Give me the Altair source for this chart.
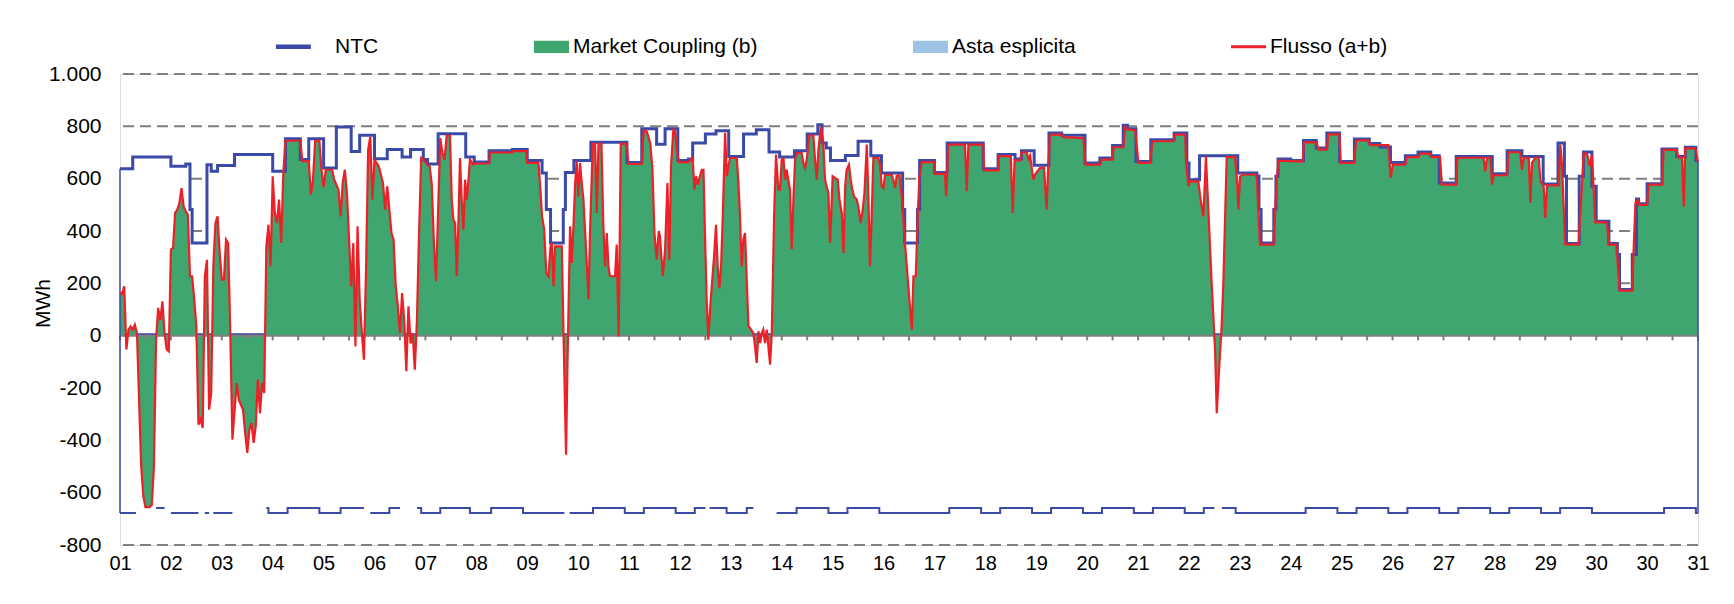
import altair as alt
import pandas as pd

# ---------------- data ----------------
DAY_LABELS = ["01", "02", "03", "04", "05", "06", "07", "08", "09", "10",
              "11", "12", "13", "14", "15", "16", "17", "18", "19", "20",
              "21", "22", "23", "24", "25", "26", "27", "28", "29", "30",
              "30", "31"]
Y_TICKS = [-800, -600, -400, -200, 0, 200, 400, 600, 800, 1000]
GRID_VALUES = [1000, 800, 600, 400, 200, -800]
LEGEND_LABELS = ["NTC", "Market Coupling (b)", "Asta esplicita", "Flusso (a+b)"]

# NTC import (hour, MWh), step changes
NTC_UP = [(0, 638), (6, 683), (24, 647), (31, 656), (33, 482), (34, 354), (41, 653), (43, 628),
          (46, 650), (54, 692), (72, 628), (78, 753), (85, 673), (89, 753), (96, 641), (102, 797),
          (109, 704), (113, 766), (120, 676), (126, 711), (133, 683), (137, 711), (143, 673),
          (145, 656), (150, 772), (163, 683), (167, 664), (174, 707), (185, 711), (192, 669),
          (199, 622), (201, 482), (203, 354), (209, 482), (210, 624), (214, 669), (222, 739),
          (239, 662), (246, 791), (253, 732), (257, 791), (263, 669), (268, 675), (270, 736),
          (276, 771), (281, 783), (287, 685), (294, 771), (300, 787), (306, 702), (311, 683),
          (318, 707), (324, 771), (329, 806), (331, 736), (333, 717), (335, 669), (342, 689),
          (348, 743), (354, 688), (359, 622), (369, 482), (370, 354), (376, 482), (377, 669),
          (384, 624), (390, 736), (407, 638), (414, 692), (422, 675), (425, 707), (431, 651),
          (438, 775), (444, 766), (455, 660), (462, 679), (468, 727), (473, 804), (475, 791),
          (479, 666), (486, 749), (497, 775), (503, 660), (504, 596), (509, 688), (527, 622),
          (536, 610), (537, 482), (538, 354), (544, 482), (545, 609), (546, 675), (552, 669),
          (558, 746), (564, 717), (569, 775), (575, 666), (582, 752), (589, 734), (594, 721),
          (599, 662), (606, 688), (612, 702), (618, 688), (622, 583), (630, 685), (647, 619),
          (654, 707), (661, 685), (671, 580), (678, 736), (681, 609), (682, 352), (688, 609),
          (690, 702), (694, 571), (696, 437), (702, 352), (706, 310), (707, 176), (713, 310),
          (715, 522), (716, 504), (720, 581), (727, 713), (734, 685), (738, 720), (743, 669),
          (744, 669)]

# NTC export (hour, MWh); None = line not drawn
NTC_LOW = [(0, -678), (7.5, -678), (7.5, None), (17, -659), (21, -659), (21, None), (24, -678),
           (37, -678), (37, None), (40, -678), (42, -678), (42, None), (44, -678), (53, -678),
           (53, None), (69, -659), (70, -678), (79, -659), (94, -678), (104, -659), (115, -659),
           (115, None), (118, -678), (127, -659), (132, -659), (132, None), (140, -659),
           (142, -678), (151, -659), (165, -678), (175, -659), (190, -678), (209.5, -678),
           (209.5, None), (212, -678), (223, -659), (238, -678), (247, -659), (262, -678),
           (271, -659), (276, -659), (276, None), (278, -659), (286, -678), (295.5, -659),
           (298.6, -659), (298.6, None), (309.6, -678), (319, -659), (334, -678), (343, -659),
           (358, -678), (391, -659), (406, -678), (415, -659), (430, -678), (439, -659),
           (454, -678), (463, -659), (478, -678), (487, -659), (502, -678), (511, -659),
           (516, -659), (516, None), (519.5, -659), (526, -678), (559, -659), (574, -678),
           (583, -659), (598, -678), (607, -659), (622, -678), (631, -659), (646, -678),
           (655, -659), (670, -678), (679, -659), (694, -678), (728, -659), (743, -678),
           (744, -678)]

# Flow (hour, MWh)
FLOW = [(0, 163), (1, 160), (2, 189), (3, -53), (4, 23), (5, 35), (6, 23), (7, 42), (8, 10),
        (9, -245), (10, -500), (11, -614), (12, -655), (14, -655), (15, -646), (16, -500),
        (17, -15), (18, 106), (19, 60), (20, 131), (21, 10), (22, -53), (23, -60),
        (24, 329), (25, 335), (26, 469), (27, 482), (28, 507), (29, 564), (30, 494), (31, 475),
        (32, 462), (33, 227), (34, 227), (35, 138), (36, 36), (37, -340), (38, -320), (39, -353),
        (40, 227), (41, 290), (42, -283), (43, -220), (44, 265), (45, 430), (46, 456), (47, 316),
        (48, 214), (49, 214), (50, 367), (51, 354), (52, 10), (53, -397), (55, -181), (56, -245),
        (58, -283), (59, -372), (60, -448), (61, -360), (62, -334), (63, -410), (64, -346),
        (65, -168), (66, -296), (67, -181), (68, -219), (69, 341), (70, 424), (71, 265),
        (72, 609), (73, 469), (74, 430), (75, 520), (76, 354), (77, 622), (78, 745), (85, 745),
        (86, 667), (89, 667), (90, 539), (91, 596), (92, 745), (94, 745), (95, 634), (96, 568),
        (97, 634), (100, 634), (101, 596), (103, 558), (104, 456), (105, 583), (106, 634),
        (107, 545), (108, 367), (109, 189), (110, 354), (111, -41), (112, 418), (113, 138),
        (114, 17), (115, -92), (116, 252), (117, 711), (118, 760), (119, 520), (120, 670),
        (121, 660), (122, 647), (124, 583), (125, 482), (126, 571), (127, 482), (128, 392),
        (129, 367), (130, 189), (131, 112), (132, 10), (133, 163), (134, 60), (135, -136),
        (136, 112), (137, -30), (138, 10), (139, -130), (140, 60), (141, 392), (142, 679),
        (143, 673), (145, 654), (146, 647), (147, 577), (148, 354), (149, 208), (150, 482),
        (151, 755), (152, 700), (153, 673), (154, 764), (155.6, 764), (156.4, 520), (157.2, 443),
        (158, 430), (158.8, 227), (159.5, 418), (160.3, 679), (161.1, 520), (161.9, 405),
        (162.7, 596), (163.5, 520), (164.3, 596), (165, 673), (166.6, 654), (167.4, 658),
        (174, 658), (174.5, 700), (185, 700), (185.5, 705), (191.5, 705), (192, 660),
        (197.3, 660), (198, 583), (199, 456), (200, 405), (201, 239), (202, 227), (203, 341),
        (203.6, 354), (204.4, 189), (205.1, 341), (208.3, 341), (209.1, 10), (210.3, -455),
        (211, -100), (212.2, 418), (213, 278), (213.8, 418), (214.6, 583), (215.3, 666),
        (216.1, 532), (216.9, 660), (217.7, 583), (218.5, 520), (220, 290), (220.9, 138),
        (221.6, 392), (222.9, 733), (224, 733), (224.8, 469), (225.6, 733), (227, 733),
        (227.9, 418), (228.7, 265), (229.5, 392), (230.3, 265), (231, 227), (233.4, 227),
        (234.2, 348), (235.1, -3), (236.1, 733), (238.9, 733), (239.7, 656), (246, 656),
        (246.9, 785), (248.4, 780), (250, 736), (251, 641), (252, 392), (253, 290), (254, 400),
        (254.6, 380), (255.9, 227), (257, 329), (258.1, 583), (259, 290), (259.8, 647),
        (260.9, 787), (261.7, 780), (262.5, 711), (263.5, 663), (268, 663), (268.8, 670),
        (270, 679), (270.8, 558), (271.6, 609), (272.4, 577), (273.2, 603), (274.3, 634),
        (275.1, 634), (275.8, 392), (276.6, 138), (277.4, -15), (278.2, 99), (279, 189),
        (280.1, 303), (281, 424), (281.8, 265), (282.6, 182), (283.4, 265), (284.2, 456),
        (285.3, 775), (286.1, 609), (286.8, 647), (287.6, 679), (290.8, 679), (291.6, 583),
        (292.3, 456), (293.1, 265), (293.9, 367), (294.7, 392), (295.5, 214), (296.3, 36),
        (297.1, 29), (298.6, 10), (299.4, -41), (300.2, -104), (301, 17), (301.8, -28),
        (302.6, 10), (303.3, 23), (304.1, -28), (304.9, 23), (305.7, -41), (306.5, -111),
        (307.3, 10), (308.4, 456), (309.3, 692), (310.4, 558), (311.2, 558), (312, 673),
        (312.8, 677), (313.6, 596), (314.3, 634), (315.1, 596), (315.9, 558), (316.7, 329),
        (317.5, 520), (318.3, 673), (319.1, 698), (321.4, 698), (322.2, 660), (323, 641),
        (323.8, 673), (325, 765), (326.9, 765), (327.7, 673), (328.5, 596), (329.3, 711),
        (330.4, 800), (331.6, 736), (332.4, 596), (333.2, 570), (334, 545), (334.8, 354),
        (335.6, 520), (336, 609), (337.1, 603), (338.4, 596), (339.2, 520), (340.3, 469),
        (341.1, 316), (341.9, 571), (342.6, 634), (343.7, 654), (344.5, 596), (345.3, 558),
        (346.1, 532), (347.4, 520), (348.1, 494), (349.2, 430), (350.2, 482), (351, 545),
        (352.1, 730), (352.9, 520), (353.6, 265), (354.4, 456), (355.2, 679), (357.6, 679),
        (358.4, 647), (359.1, 571), (359.9, 564), (360.7, 615), (363.9, 615), (364.6, 596),
        (365.4, 564), (366.2, 609), (367.5, 615), (368.6, 532), (370.1, 354), (371.7, 189),
        (373.3, 23), (374.1, 227), (375.2, 227), (376.1, 456), (376.9, 609), (378, 663),
        (383.8, 663), (384.2, 618), (389, 618), (389.5, 532), (390.5, 730), (398.4, 730),
        (399.2, 552), (400, 730), (407, 730), (407.4, 632), (414, 632), (414.5, 686), (420, 686),
        (420.9, 469), (421.8, 670), (424.4, 670), (425.1, 701), (427.5, 701), (428.3, 675),
        (429.1, 688), (430.6, 596), (431.4, 615), (432.5, 628), (433.8, 641), (435.7, 641),
        (436.9, 482), (437.7, 660), (438.5, 768), (444, 768), (444.8, 759), (454.2, 755),
        (455.3, 654), (462, 654), (462.9, 673), (467.9, 673), (468.4, 720), (473, 720),
        (473.9, 797), (475.4, 788), (478.6, 785), (480.2, 660), (485.7, 660), (486.8, 743),
        (496.7, 743), (497.4, 768), (502.2, 768), (502.6, 673), (503.7, 571), (504.5, 590),
        (508.4, 590), (509.5, 520), (510.8, 456), (512, 685), (514.7, 201), (516.3, -54),
        (517.1, -296), (518.3, -117), (519.4, 36), (520.2, 201), (521.8, 682), (525.7, 682),
        (526.8, 583), (527.3, 482), (528.1, 609), (529.7, 616), (535.2, 616), (536, 603),
        (537.5, 348), (543.8, 348), (545.4, 600), (546.2, 669), (557.6, 665), (558.2, 739),
        (564.2, 739), (565, 711), (569, 711), (569.7, 769), (574.9, 769), (575.6, 660),
        (581.8, 660), (582.8, 746), (588.6, 746), (589.4, 728), (598, 728), (599.1, 603),
        (600.1, 654), (605.9, 654), (606.7, 682), (612.2, 682), (613, 696), (617.7, 696),
        (618.5, 682), (622.4, 682), (623.2, 577), (630, 577), (630.5, 680), (642.9, 680),
        (643.7, 628), (644.5, 680), (646.1, 680), (646.9, 577), (647.6, 613), (653.9, 613),
        (654.7, 701), (660.2, 701), (661, 634), (661.8, 680), (664.2, 680), (665, 507),
        (665.7, 660), (667.3, 680), (668.9, 680), (669.7, 590), (671.2, 574), (672, 450),
        (672.8, 574), (678.3, 574), (679.1, 730), (679.9, 647), (681.4, 350), (687.7, 348),
        (690.1, 696), (691.7, 696), (692.9, 647), (694, 690), (695.6, 433), (701.1, 433),
        (701.9, 348), (705.5, 348), (707.1, 172), (712.9, 172), (714.5, 507), (715.6, 518),
        (716.5, 500), (720, 500), (720.7, 577), (727, 577), (727.8, 710), (733.8, 710),
        (734.9, 680), (736.5, 680), (737.3, 494), (738, 716), (742.7, 716), (744, 665)]

# ---------------- styling ----------------
BLUE = "#3a4aa6"
GREEN = "#3fa66f"
LIGHTBLUE = "#9dc3e6"
RED = "#ec2027"
GREY = "#7f7f7f"
FONT = "Liberation Sans"

HOURS_END = 744

df_up = pd.DataFrame(NTC_UP, columns=["h", "v"])
df_low = pd.DataFrame(NTC_LOW, columns=["h", "v"])
df_flow = pd.DataFrame(FLOW, columns=["h", "v"])
df_grid = pd.DataFrame({"v": GRID_VALUES})
df_zero = pd.DataFrame({"h": [0, HOURS_END], "v": [0, 0]})
df_ticks = pd.DataFrame({"h": list(range(0, HOURS_END + 1, 12))})
df_ticks["v"] = 0
df_ticks["v2"] = -18
df_edges = pd.DataFrame({"h": [NTC_UP[0][0], NTC_UP[-1][0]],
                         "v": [NTC_UP[0][1], NTC_UP[-1][1]],
                         "v2": [NTC_LOW[0][1], NTC_LOW[-1][1]]})
df_leg = pd.DataFrame({"serie": LEGEND_LABELS, "h": 0, "v": 5000})

x_scale = alt.Scale(domain=[0, HOURS_END], nice=False, zero=False)
y_scale = alt.Scale(domain=[-800, 1000], nice=False)

label_js = "[" + ",".join("'%s'" % s for s in DAY_LABELS) + "]"
x_axis = alt.Axis(values=[24 * i for i in range(len(DAY_LABELS))],
                  labelExpr=label_js + "[round(datum.value / 24)]",
                  title=None, grid=False, ticks=False, domain=False,
                  labelFont=FONT, labelFontSize=20, labelColor="black",
                  labelPadding=8, labelFlush=False, labelOverlap=False)
y_axis = alt.Axis(values=Y_TICKS,
                  labelExpr="(datum.value < 0 ? '-' : '') + replace(format(abs(datum.value), ','), ',', '.')",
                  title="MWh", titleFont=FONT, titleFontSize=21, titleFontWeight="normal",
                  titleColor="black", titleX=-77, titleY=229, titleAngle=270,
                  titleAlign="center", titleBaseline="middle",
                  grid=False, ticks=False, domain=False, tickSize=0,
                  labelFont=FONT, labelFontSize=21, labelColor="black",
                  labelPadding=19, labelFlush=False, labelOverlap=False)

X = alt.X("h:Q", scale=x_scale, axis=x_axis)
Y = alt.Y("v:Q", scale=y_scale, axis=y_axis)

grid = alt.Chart(df_grid).mark_rule(color=GREY, strokeWidth=2, strokeDash=[11, 6]).encode(y=Y)
ntc_white = alt.Chart(df_up).mark_area(interpolate="step-after", color="white").encode(x=X, y=Y)
zero_blue = alt.Chart(df_zero).mark_line(color=BLUE, strokeWidth=2, yOffset=-1.5).encode(x=X, y=Y)
flow_area = alt.Chart(df_flow).mark_area(color=GREEN, opacity=1).encode(x=X, y=Y)
zero_line = alt.Chart(df_zero).mark_line(color=GREY, strokeWidth=2).encode(x=X, y=Y)
ticks = alt.Chart(df_ticks).mark_rule(color=GREY, strokeWidth=2).encode(
    x=X, y=Y, y2=alt.Y2("v2:Q"))
ntc_up_line = alt.Chart(df_up).mark_line(interpolate="step-after", color=BLUE,
                                         strokeWidth=3).encode(x=X, y=Y)
ntc_low_line = alt.Chart(df_low).mark_line(interpolate="step-after", color=BLUE,
                                           strokeWidth=2).encode(x=X, y=Y)
edges = alt.Chart(df_edges).mark_rule(color=BLUE, strokeWidth=1.5).encode(
    x=X, y=Y, y2=alt.Y2("v2:Q"))
flow_line = alt.Chart(df_flow).mark_line(color=RED, strokeWidth=2.2).encode(x=X, y=Y)

# legend swatches: the NTC line swatch sits further left of its label
LINE_NTC = "M-2.15,-0.13H-0.15V0.13H-2.15Z"
LINE_THIN = "M-1,-0.09H1V0.09H-1Z"
RECT = "M-1,-0.35H1V0.35H-1Z"
leg = alt.Legend(orient="none", legendX=176, legendY=-45, direction="horizontal",
                 title=None, symbolSize=1225, symbolStrokeWidth=0, symbolOpacity=1,
                 labelFont=FONT, labelFontSize=21, labelColor="black", labelLimit=500,
                 labelOffset=4, columnPadding=155, padding=0)
legend_layer = alt.Chart(df_leg).mark_point(filled=True, clip=True, opacity=1).encode(
    x=X, y=Y,
    color=alt.Color("serie:N", scale=alt.Scale(domain=LEGEND_LABELS,
                                               range=[BLUE, GREEN, LIGHTBLUE, RED]), legend=leg),
    shape=alt.Shape("serie:N", scale=alt.Scale(domain=LEGEND_LABELS,
                                               range=[LINE_NTC, RECT, RECT, LINE_THIN]), legend=leg),
)

chart = alt.layer(grid, ntc_white, zero_blue, flow_area, zero_line, ticks,
                  ntc_up_line, ntc_low_line, edges, flow_line, legend_layer).properties(
    width=1578, height=471,
    autosize=alt.AutoSizeParams(type="none"),
    padding={"left": 112, "top": 66, "right": 20, "bottom": 49},
).configure_view(stroke=None).configure(background="white")

chart.save("out.html", embed_options={"renderer": "svg", "actions": False})
